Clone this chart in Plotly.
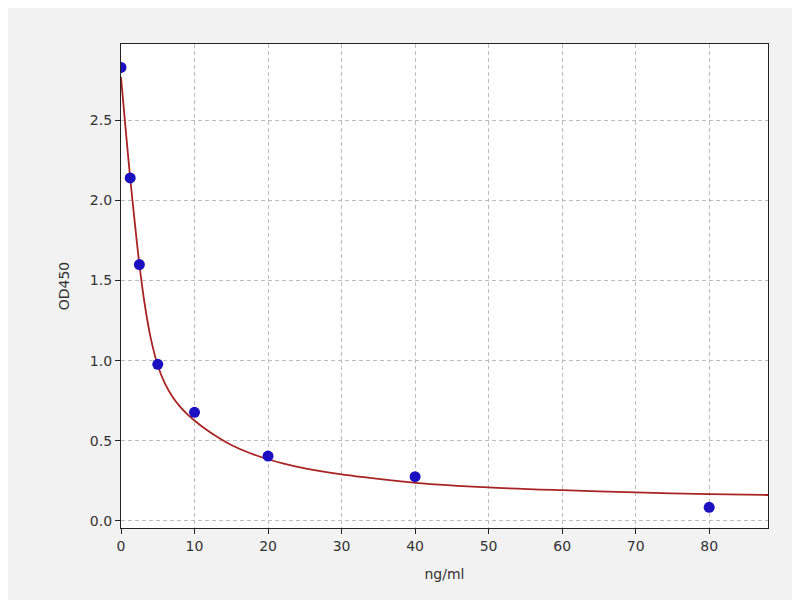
import plotly.graph_objects as go

# Standard points (concentration ng/ml, OD450)
conc = [0, 1.25, 2.5, 5, 10, 20, 40, 80]
od = [2.83, 2.14, 1.60, 0.977, 0.678, 0.405, 0.276, 0.085]

# Fitted curve, values
curve_x = [0, 0.6, 1.25, 1.9, 2.5, 3.2, 4, 5, 6, 7, 8, 9, 10, 11.2, 13, 15, 17.5,
           20, 22, 25, 30, 35, 40, 50, 60, 70, 80, 88]
curve_y = [2.77, 2.46, 2.14, 1.85, 1.60, 1.36, 1.15, 0.97, 0.855, 0.775, 0.715, 0.667,
           0.627, 0.583, 0.527, 0.474, 0.424, 0.385, 0.359, 0.328, 0.29, 0.262, 0.238,
           0.209, 0.192, 0.178, 0.167, 0.162]

x_ticks = [0, 10, 20, 30, 40, 50, 60, 70, 80]
y_ticks = [0.0, 0.5, 1.0, 1.5, 2.0, 2.5]

fig = go.Figure()
fig.add_trace(go.Scatter(x=curve_x, y=curve_y, mode="lines",
                         line=dict(color="#a82424", width=1.8, shape="spline", smoothing=0.8),
                         hoverinfo="skip", showlegend=False))
fig.add_trace(go.Scatter(x=conc, y=od, mode="markers",
                         marker=dict(color="#1a10c0", size=11, line=dict(width=0)),
                         showlegend=False))

font_main = dict(family="DejaVu Sans", size=14, color="#333333")

fig.update_layout(
    width=800, height=600,
    paper_bgcolor="#f2f2f2", plot_bgcolor="white",
    margin=dict(l=113, r=40, t=36, b=80),
    font=font_main,
    xaxis=dict(range=[0, 88], tickvals=x_ticks, ticks="outside", ticklen=5,
               tickcolor="#222", showline=True, linecolor="#222", linewidth=1.3,
               mirror=True, showgrid=True, gridcolor="#bdbdbd", griddash="4px,3px",
               gridwidth=1, zeroline=False,
               title=dict(text="ng/ml", font=font_main, standoff=16)),
    yaxis=dict(range=[-0.044, 2.976], tickvals=y_ticks, tickformat=".1f",
               ticks="outside", ticklen=5, tickcolor="#222", showline=True,
               linecolor="#222", linewidth=1.3, mirror=True, showgrid=True,
               gridcolor="#bdbdbd", griddash="4px,3px", gridwidth=1, zeroline=False,
               title=dict(text="OD450", font=font_main, standoff=16)),
)

fig.write_html("out.html")
